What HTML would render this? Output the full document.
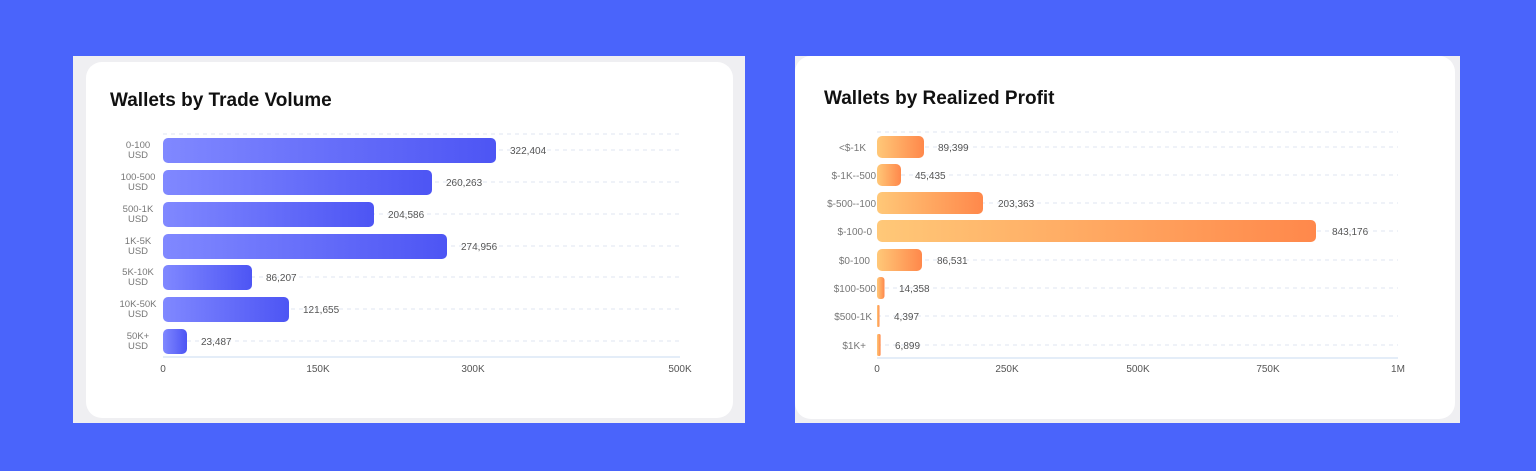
<!DOCTYPE html>
<html><head><meta charset="utf-8"><style>
html,body{margin:0;padding:0;background:#4a64fb;width:1536px;height:471px;overflow:hidden}
svg{display:block;font-family:"Liberation Sans",sans-serif}
</style></head><body>
<svg width="1536" height="471" viewBox="0 0 1536 471" xmlns="http://www.w3.org/2000/svg">
<defs>
<linearGradient id="gb" x1="0" x2="1" y1="0" y2="0"><stop offset="0" stop-color="#8088ff"/><stop offset="1" stop-color="#4d55f4"/></linearGradient>
<linearGradient id="go" x1="0" x2="1" y1="0" y2="0"><stop offset="0" stop-color="#ffc878"/><stop offset="1" stop-color="#ff884b"/></linearGradient>
</defs>
<rect width="1536" height="471" fill="#4a64fb"/>
<!-- left panel -->
<rect x="73" y="56" width="672" height="367" fill="#efeff2"/>
<rect x="86" y="62" width="647" height="356" rx="16" fill="#fff"/>
<text x="110" y="106" font-size="19" font-weight="bold" fill="#111">Wallets by Trade Volume</text>
<g stroke="#dfe6f0" stroke-width="1" stroke-dasharray="4,4">
<line x1="163" x2="680" y1="134" y2="134"/>
<line x1="163" x2="680" y1="150" y2="150"/><line x1="163" x2="680" y1="182" y2="182"/><line x1="163" x2="680" y1="214" y2="214"/><line x1="163" x2="680" y1="246" y2="246"/><line x1="163" x2="680" y1="277" y2="277"/><line x1="163" x2="680" y1="309" y2="309"/><line x1="163" x2="680" y1="341" y2="341"/>
</g>
<line x1="163" x2="680" y1="357" y2="357" stroke="#dbe7f5" stroke-width="1.5"/>
<g fill="url(#gb)">
<rect x="163" y="138" width="333" height="25" rx="5"/>
<rect x="163" y="170" width="269" height="25" rx="5"/>
<rect x="163" y="202" width="211" height="25" rx="5"/>
<rect x="163" y="234" width="284" height="25" rx="5"/>
<rect x="163" y="265" width="89" height="25" rx="5"/>
<rect x="163" y="297" width="126" height="25" rx="5"/>
<rect x="163" y="329" width="24" height="25" rx="5"/>
</g>
<g font-size="10" fill="#555">
<text x="510" y="154">322,404</text><text x="446" y="186">260,263</text><text x="388" y="218">204,586</text><text x="461" y="250">274,956</text><text x="266" y="281">86,207</text><text x="303" y="313">121,655</text><text x="201" y="345">23,487</text>
</g>
<g font-size="9.5" fill="#777" text-anchor="middle">
<text x="138" y="148">0-100</text><text x="138" y="158">USD</text>
<text x="138" y="180">100-500</text><text x="138" y="190">USD</text>
<text x="138" y="212">500-1K</text><text x="138" y="222">USD</text>
<text x="138" y="244">1K-5K</text><text x="138" y="254">USD</text>
<text x="138" y="275">5K-10K</text><text x="138" y="285">USD</text>
<text x="138" y="307">10K-50K</text><text x="138" y="317">USD</text>
<text x="138" y="339">50K+</text><text x="138" y="349">USD</text>
</g>
<g font-size="10" fill="#555" text-anchor="middle">
<text x="163" y="372">0</text><text x="318" y="372">150K</text><text x="473" y="372">300K</text><text x="680" y="372">500K</text>
</g>
<!-- right panel -->
<rect x="795" y="56" width="665" height="367" fill="#efeff2"/>
<rect x="795" y="56" width="660" height="363" rx="16" fill="#fff"/>
<text x="824" y="104" font-size="19" font-weight="bold" fill="#111">Wallets by Realized Profit</text>
<g stroke="#dfe6f0" stroke-width="1" stroke-dasharray="4,4">
<line x1="877" x2="1398" y1="132" y2="132"/>
<line x1="877" x2="1398" y1="147" y2="147"/><line x1="877" x2="1398" y1="175" y2="175"/><line x1="877" x2="1398" y1="203" y2="203"/><line x1="877" x2="1398" y1="231" y2="231"/><line x1="877" x2="1398" y1="260" y2="260"/><line x1="877" x2="1398" y1="288" y2="288"/><line x1="877" x2="1398" y1="316" y2="316"/><line x1="877" x2="1398" y1="345" y2="345"/>
</g>
<line x1="877" x2="1398" y1="358" y2="358" stroke="#dbe7f5" stroke-width="1.5"/>
<g fill="url(#go)">
<rect x="877" y="136" width="47" height="22" rx="5"/>
<rect x="877" y="164" width="24" height="22" rx="5"/>
<rect x="877" y="192" width="106" height="22" rx="5"/>
<rect x="877" y="220" width="439" height="22" rx="5"/>
<rect x="877" y="249" width="45" height="22" rx="5"/>
<rect x="877" y="277" width="7.5" height="22" rx="3"/>
<rect x="877" y="305" width="2.5" height="22" rx="1"/>
<rect x="877" y="334" width="3.6" height="22" rx="1.5"/>
</g>
<g font-size="10" fill="#555">
<text x="938" y="151">89,399</text><text x="915" y="179">45,435</text><text x="998" y="207">203,363</text><text x="1332" y="235">843,176</text><text x="937" y="264">86,531</text><text x="899" y="292">14,358</text><text x="894" y="320">4,397</text><text x="895" y="349">6,899</text>
</g>
<g font-size="10" fill="#777" text-anchor="end">
<text x="866" y="151">&lt;$-1K</text><text x="876" y="179">$-1K--500</text><text x="876" y="207">$-500--100</text><text x="872" y="235">$-100-0</text><text x="870" y="264">$0-100</text><text x="876" y="292">$100-500</text><text x="872" y="320">$500-1K</text><text x="866" y="349">$1K+</text>
</g>
<rect x="820" y="195" width="0" height="0"/>
<g font-size="10" fill="#555" text-anchor="middle">
<text x="877" y="372">0</text><text x="1007" y="372">250K</text><text x="1138" y="372">500K</text><text x="1268" y="372">750K</text><text x="1398" y="372">1M</text>
</g>
</svg>
</body></html>
